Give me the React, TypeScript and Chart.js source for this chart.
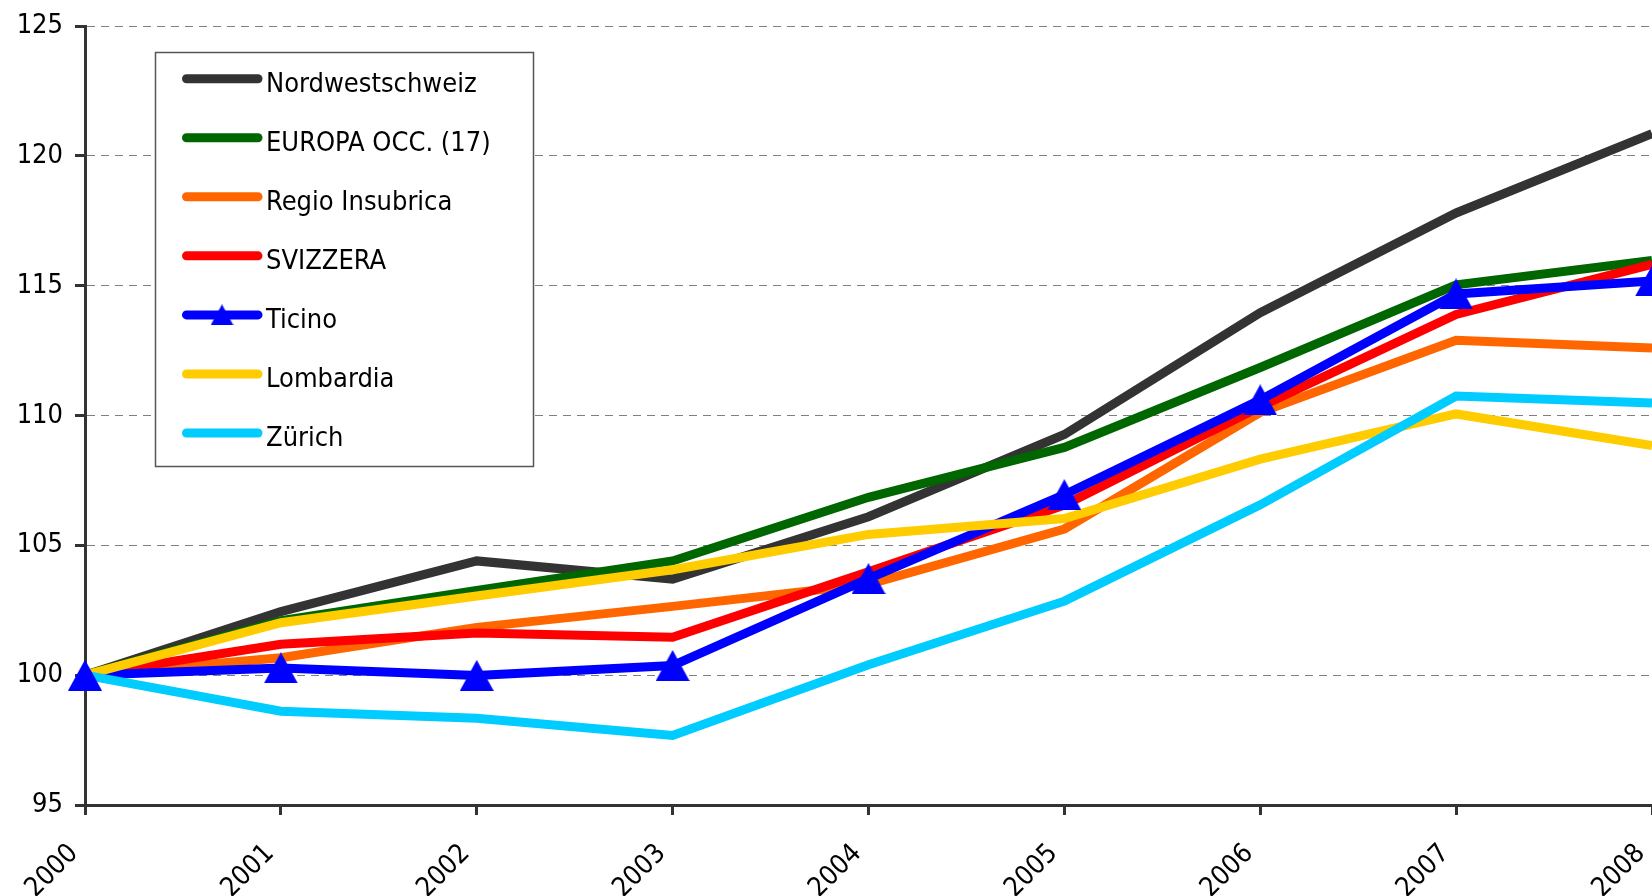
import React, { useEffect, useRef } from "react";
import { Chart, registerables } from "chart.js";

Chart.register(...registerables);

const years = ["2000", "2001", "2002", "2003", "2004", "2005", "2006", "2007", "2008"];

const nordwestschweiz = [100, 102.45, 104.4, 103.7, 106.1, 109.27, 113.96, 117.8, 120.85];
const europaOcc = [100, 102.1, 103.26, 104.4, 106.85, 108.77, 111.85, 115.03, 115.97];
const regioInsubrica = [100, 100.67, 101.84, 102.65, 103.5, 105.63, 110.12, 112.9, 112.6];
const svizzera = [100, 101.19, 101.62, 101.46, 103.98, 106.55, 110.34, 113.89, 115.82];
const ticino = [100, 100.28, 99.99, 100.37, 103.72, 106.95, 110.6, 114.68, 115.18];
const lombardia = [100, 102.02, 103.05, 104.06, 105.42, 106.03, 108.32, 110.06, 108.84];
const zurich = [100, 98.61, 98.34, 97.68, 100.4, 102.85, 106.56, 110.75, 110.48];

const seriesLabels = [
  "Nordwestschweiz",
  "EUROPA OCC. (17)",
  "Regio Insubrica",
  "SVIZZERA",
  "Ticino",
  "Lombardia",
  "Zürich",
];
const seriesData = [nordwestschweiz, europaOcc, regioInsubrica, svizzera, ticino, lombardia, zurich];
const seriesColors = ["#333333", "#006600", "#FF6600", "#FF0000", "#0000FF", "#FFCC00", "#00CCFF"];

const yMin = 95;
const yMax = 125;
const yStep = 5;

const FONT = '"DejaVu Sans Condensed", "DejaVu Sans", sans-serif';

function makeTriangle(w: number, h: number, color: string) {
  const c = document.createElement("canvas");
  c.width = w;
  c.height = h;
  const g = c.getContext("2d")!;
  g.fillStyle = color;
  g.beginPath();
  g.moveTo(w / 2, 0);
  g.lineTo(w, h);
  g.lineTo(0, h);
  g.closePath();
  g.fill();
  return c;
}

export default function App() {
  const ref = useRef<HTMLCanvasElement | null>(null);

  useEffect(() => {
    document.body.style.margin = "0";
    const canvas = ref.current!;
    const bigTri = makeTriangle(34, 31, "#0000FF");
    const smallTri = makeTriangle(23, 21, "#0000FF");

    const legendPlugin = {
      id: "customLegend",
      afterDraw(chart: any) {
        const ctx = chart.ctx as CanvasRenderingContext2D;
        ctx.save();
        ctx.fillStyle = "#ffffff";
        ctx.fillRect(155, 52, 378, 414);
        ctx.strokeStyle = "#555555";
        ctx.lineWidth = 1.5;
        ctx.strokeRect(155.5, 52.5, 378, 414);
        seriesLabels.forEach((label, i) => {
          const y = 78.7 + i * 59.05;
          ctx.strokeStyle = seriesColors[i];
          ctx.lineWidth = 9;
          ctx.lineCap = "round";
          ctx.beginPath();
          ctx.moveTo(186.5, y);
          ctx.lineTo(258, y);
          ctx.stroke();
          if (label === "Ticino") {
            ctx.drawImage(smallTri, 222 - smallTri.width / 2, y - smallTri.height / 2);
          }
          ctx.fillStyle = "#000000";
          ctx.font = `27px ${FONT}`;
          ctx.textBaseline = "middle";
          ctx.textAlign = "left";
          ctx.fillText(label, 266, y + 6);
        });
        ctx.restore();
      },
    };

    const n = seriesLabels.length;
    const datasets: any[] = seriesLabels.map((label, i) => ({
      label,
      data: seriesData[i],
      borderColor: seriesColors[i],
      backgroundColor: seriesColors[i],
      borderWidth: 9,
      borderJoinStyle: "miter",
      borderCapStyle: "butt",
      pointRadius: 0,
      tension: 0,
      fill: false,
      order: n - i,
    }));
    datasets.push({
      label: "Ticino markers",
      data: ticino,
      showLine: false,
      borderColor: "#0000FF",
      backgroundColor: "#0000FF",
      pointStyle: bigTri,
      pointRadius: 17,
      order: 0,
    });

    const chart = new Chart(canvas, {
      type: "line",
      data: { labels: years, datasets },
      options: {
        responsive: false,
        animation: false,
        events: [],
        layout: { autoPadding: false, padding: { top: 26, left: 0, right: 0, bottom: 0 } },
        plugins: { legend: { display: false }, tooltip: { enabled: false } },
        scales: {
          x: {
            type: "category",
            offset: false,
            grid: {
              display: true,
              drawOnChartArea: false,
              drawTicks: true,
              tickLength: 10,
              tickColor: "#333333",
              tickWidth: 3,
            },
            border: { display: true, color: "#333333", width: 3 },
            ticks: {
              color: "#000000",
              font: { family: FONT, size: 27 },
              minRotation: 45,
              maxRotation: 45,
              autoSkip: false,
              padding: 23,
              labelOffset: -11,
            },
            afterFit: (s: any) => {
              s.height = 91;
              s.paddingLeft = 0;
              s.paddingRight = 0;
            },
          },
          y: {
            min: yMin,
            max: yMax,
            ticks: {
              stepSize: yStep,
              color: "#000000",
              font: { family: FONT, size: 27 },
              padding: 12,
            },
            grid: {
              color: (c: any) => (c.tick && c.tick.value === yMin ? "rgba(0,0,0,0)" : "#808080"),
              lineWidth: 1,
              tickLength: 10,
              tickColor: "#333333",
              tickWidth: 3,
            },
            border: { display: true, color: "#333333", width: 3, dash: [8, 6] },
            afterFit: (s: any) => {
              s.width = 85;
              s.paddingTop = 0;
              s.paddingBottom = 0;
            },
          },
        },
      } as any,
      plugins: [legendPlugin],
    });
    return () => chart.destroy();
  }, []);

  return <canvas ref={ref} width={1652} height={896} style={{ display: "block" }} />;
}
